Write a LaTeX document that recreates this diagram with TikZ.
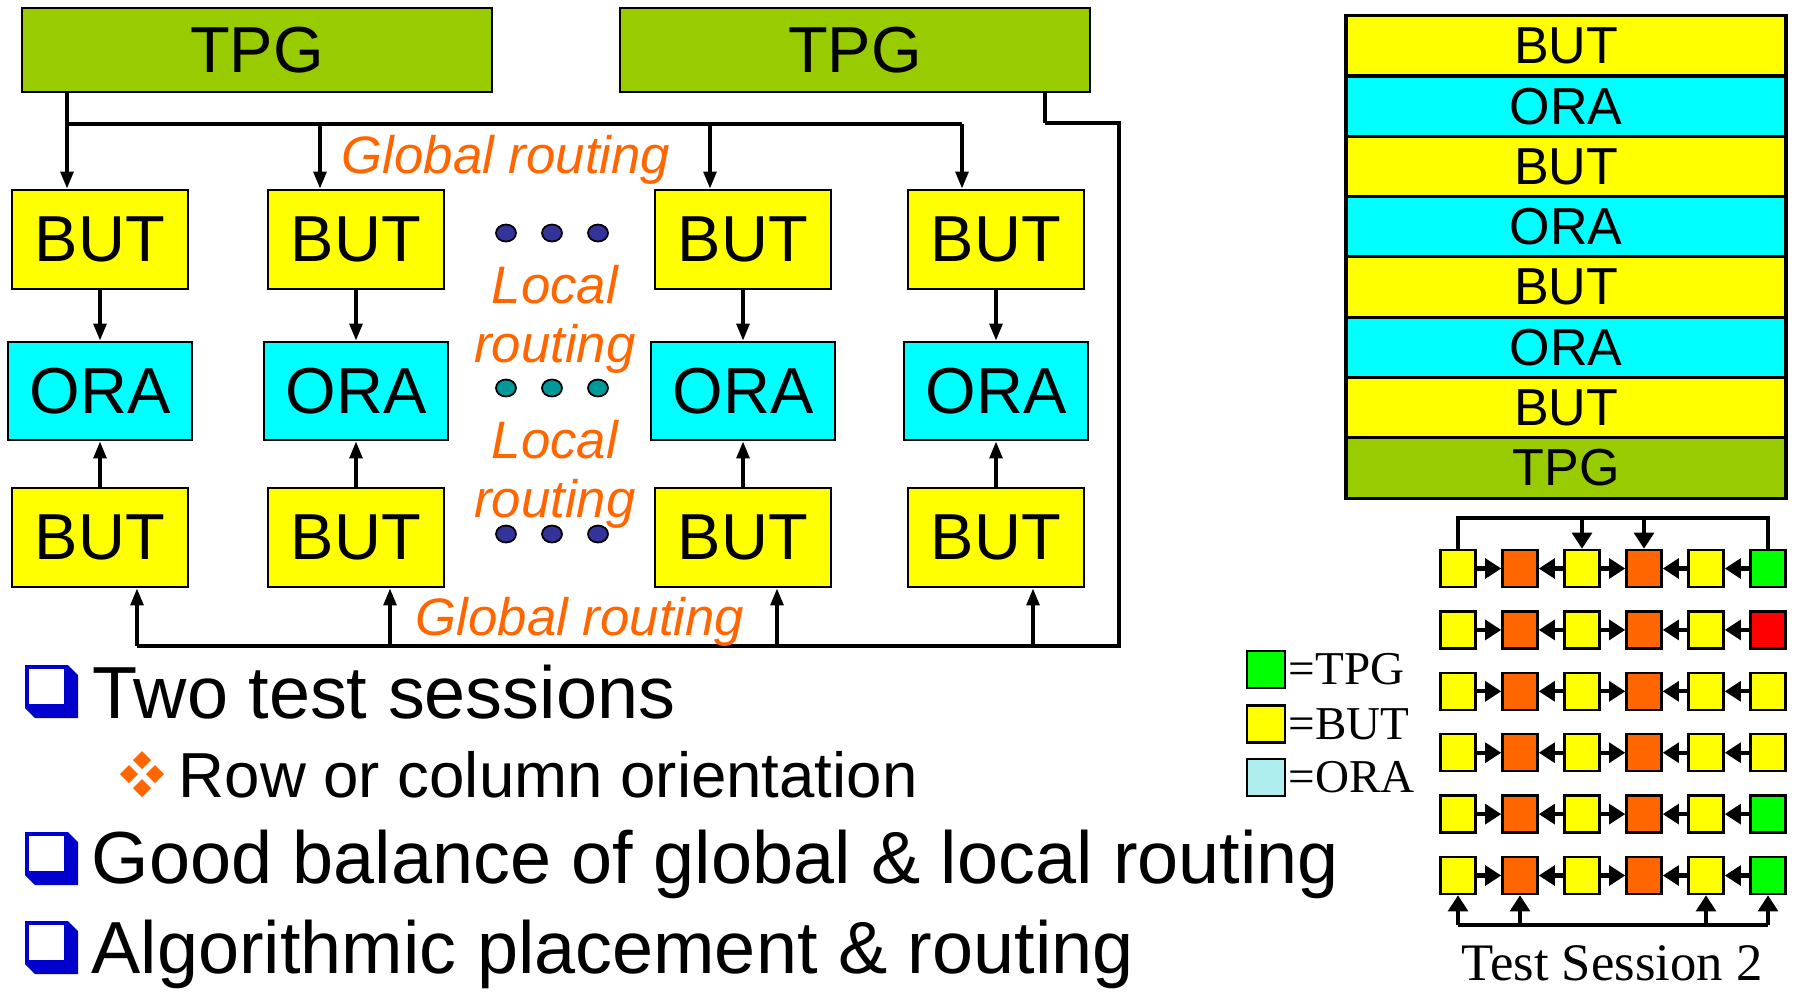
\documentclass[tikz,border=0pt]{standalone}
\usepackage{fontspec}
\setmainfont{Liberation Sans}
\newfontfamily\serifface{Liberation Serif}
\usetikzlibrary{arrows.meta, positioning, calc}
\definecolor{tpggreen}{RGB}{153, 204, 0}
\definecolor{butyellow}{RGB}{255, 255, 0}
\definecolor{oracyan}{RGB}{0, 255, 255}
\definecolor{routeorange}{RGB}{255, 102, 0}
\definecolor{dotnavy}{RGB}{51, 51, 153}
\definecolor{dotteal}{RGB}{0, 153, 153}
\definecolor{bulletblue}{RGB}{0, 0, 204}
\definecolor{cellgreen}{RGB}{0, 255, 0}
\definecolor{cellred}{RGB}{255, 0, 0}
\definecolor{cellorange}{RGB}{255, 102, 0}
\definecolor{keycyan}{RGB}{175, 238, 238}
\tikzset{
  block/.style={draw=black, line width=0.8pt, inner sep=0pt, font=\fontsize{18.5}{18.5}\selectfont},
  butblock/.style={block, fill=butyellow, minimum width=17.6mm, minimum height=9.9mm},
  orablock/.style={block, fill=oracyan, minimum width=18.4mm, minimum height=9.8mm},
  tpgblock/.style={block, fill=tpggreen, minimum width=47mm, minimum height=8.4mm},
  link/.style={-{Triangle[length=4.8pt, width=3.6pt]}, line width=1pt},
  busline/.style={line width=1.4pt},
  routelabel/.style={text=routeorange, font=\fontsize{15}{15}\selectfont\itshape, inner sep=0pt, anchor=base},
  layer/.style={draw=black, line width=0.9pt, inner sep=0pt, outer sep=0pt, minimum width=44mm, minimum height=6.03mm, font=\fontsize{14.8}{14.8}\selectfont},
  cell/.style={draw=black, line width=0.7pt, inner sep=0pt, minimum width=3.5mm, minimum height=3.7mm},
  cellarrow/.style={-{Triangle[length=4.6pt, width=5.6pt]}, line width=1.2pt},
  cellbus/.style={line width=1.2pt},
  keybox/.style={draw=black, line width=0.6pt, inner sep=0pt, minimum width=3.8mm, minimum height=3.7mm},
  keytext/.style={font=\serifface\fontsize{13.4}{13.4}\selectfont, inner sep=0pt},
  pointtext/.style={inner sep=0pt, anchor=base west}
}

\begin{document}
\begin{tikzpicture}[x=0.1mm, y=-0.1mm]
  \useasboundingbox (0,0) rectangle (1794,991);
  \fill[white] (0,0) rectangle (1794,991);

  % left array
  \node[tpgblock] (tpg1) at (257,50) {TPG};
  \node[tpgblock] (tpg2) at (855,50) {TPG};
  \foreach \i/\x in {1/100,2/356,3/743,4/996} {
    \node[butblock] (bt\i) at (\x,239.5) {BUT};
    \node[orablock] (ora\i) at (\x,391) {ORA};
    \node[butblock] (bb\i) at (\x,537.5) {BUT};
    \draw[link] (bt\i) -- (ora\i);
    \draw[link] (bb\i) -- (ora\i);
  }

  % global routing from the first TPG
  \foreach \i/\x in {1/67,2/320,3/710,4/962}
    \coordinate (drop\i) at (\x,124);
  \draw[line width=1pt] (tpg1.south -| drop1) -- (drop1);
  \draw[busline] (drop1) -- (drop4);
  \foreach \i in {1,...,4}
    \draw[link] (drop\i) -- (drop\i |- bt\i.north);

  % global routing from the second TPG
  \coordinate (tap) at (1045,123);
  \coordinate (corner) at (1119,123);
  \foreach \i/\x in {1/137,2/390,3/777,4/1033}
    \coordinate (rise\i) at (\x,646);
  \draw[line width=1pt] (tpg2.south -| tap) -- (tap);
  \draw[busline] (tap) -- (corner) -- (corner |- rise1) -- (rise1);
  \foreach \i in {1,...,4}
    \draw[link] (rise\i) -- (rise\i |- bb\i.south);

  % dots
  \foreach \y/\c in {233/dotnavy,388/dotteal,534/dotnavy}
    \foreach \x in {506,552,598}
      \filldraw[fill=\c, draw=black, line width=0.5pt] (\x,\y) ellipse [x radius=10, y radius=8.5];

  \node[routelabel] (globaltop) at (506,173) {Global routing};
  \node[routelabel] (local1) at (555,303) {Local};
  \node[routelabel] (routing1) at (555,362) {routing};
  \node[routelabel] (local2) at (555,458) {Local};
  \node[routelabel] (routing2) at (555,517) {routing};
  \node[routelabel] (globalbot) at (580,635) {Global routing};

  % layer stack
  \node[layer, fill=butyellow] (l1) at (1566,45.85) {BUT};
  \node[layer, fill=oracyan, below=0pt of l1] (l2) {ORA};
  \node[layer, fill=butyellow, below=0pt of l2] (l3) {BUT};
  \node[layer, fill=oracyan, below=0pt of l3] (l4) {ORA};
  \node[layer, fill=butyellow, below=0pt of l4] (l5) {BUT};
  \node[layer, fill=oracyan, below=0pt of l5] (l6) {ORA};
  \node[layer, fill=butyellow, below=0pt of l6] (l7) {BUT};
  \node[layer, fill=tpggreen, below=0pt of l7] (l8) {TPG};

  % test session grid
  \foreach \r/\endcol in {1/cellgreen,2/cellred,3/butyellow,4/butyellow,5/cellgreen,6/cellgreen} {
    \foreach \c/\col in {1/butyellow,2/cellorange,3/butyellow,4/cellorange,5/butyellow,6/\endcol}
      \node[cell, fill=\col] (q\r\c) at ({1458+62*(\c-1)},{568.5+61.4*(\r-1)}) {};
    \draw[cellarrow] (q\r1) -- (q\r2);
    \draw[cellarrow] (q\r3) -- (q\r2);
    \draw[cellarrow] (q\r3) -- (q\r4);
    \draw[cellarrow] (q\r5) -- (q\r4);
    \draw[cellarrow] (q\r6) -- (q\r5);
  }
  \coordinate (gtop) at (1458,518);
  \coordinate (gbot) at (1458,925);
  \draw[cellbus] (q11.north) -- (q11.north |- gtop) -- (q16.north |- gtop) -- (q16.north);
  \draw[cellarrow] (q13.north |- gtop) -- (q13.north);
  \draw[cellarrow] (q14.north |- gtop) -- (q14.north);
  \draw[cellbus] (q61.south |- gbot) -- (q66.south |- gbot);
  \foreach \c in {1,2,5,6}
    \draw[cellarrow] (q6\c.south |- gbot) -- (q6\c.south);
  \node[font=\serifface\fontsize{15}{15}\selectfont, inner sep=0pt, anchor=base] (session) at (1612,980) {Test Session 2};

  % legend
  \node[keybox, fill=cellgreen] (k1) at (1266,669.5) {};
  \node[keybox, fill=butyellow] (k2) at (1266,724) {};
  \node[keybox, fill=keycyan] (k3) at (1266,777.5) {};
  \node[keytext, right=0.2mm of k1] (t1) {=TPG};
  \node[keytext, right=0.2mm of k2] (t2) {=BUT};
  \node[keytext, right=0.2mm of k3] (t3) {=ORA};

  % bullets
  \foreach \y in {665,832,921} {
    \fill[bulletblue] (25,\y) -- (68,\y) -- (78,\y+10) -- (78,\y+53) -- (35,\y+53) -- (25,\y+43) -- cycle;
    \fill[white] (29,\y+4) rectangle (64,\y+39);
  }
  \foreach \dx/\dy in {0/-14,-13/0,13/0,0/14}
    \fill[routeorange] (142+\dx,774+\dy-9) -- ++(9,9) -- ++(-9,9) -- ++(-9,-9) -- cycle;
  \node[pointtext, font=\fontsize{21}{21}\selectfont] (p1) at (92,718) {Two test sessions};
  \node[pointtext, font=\fontsize{18.1}{18.1}\selectfont] (p2) at (178,797) {Row or column orientation};
  \node[pointtext, font=\fontsize{21}{21}\selectfont] (p3) at (91,883) {Good balance of global \& local routing};
  \node[pointtext, font=\fontsize{21}{21}\selectfont] (p4) at (91,973) {Algorithmic placement \& routing};
\end{tikzpicture}
\end{document}
